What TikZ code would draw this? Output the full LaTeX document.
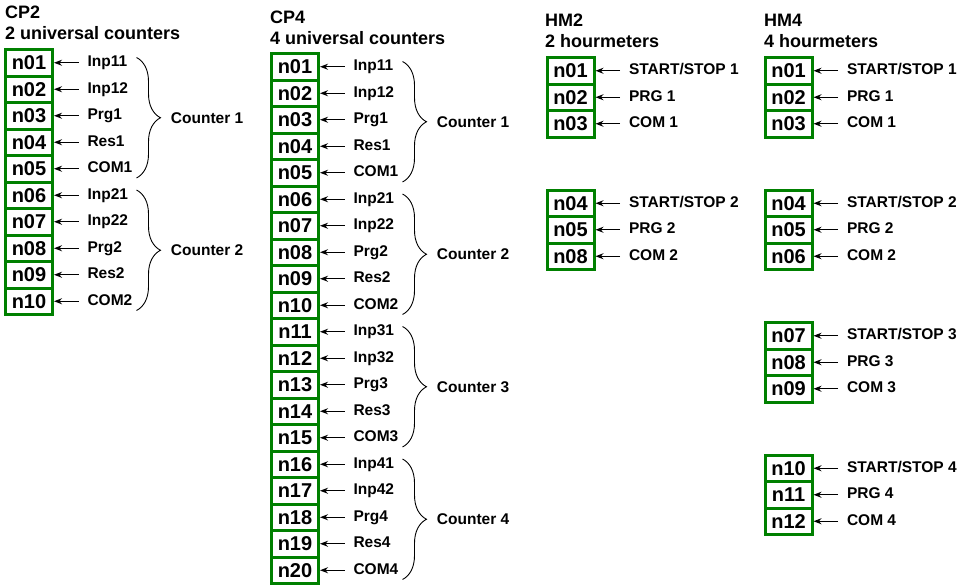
\documentclass[tikz,border=0pt]{standalone}
\usepackage{fontspec}
\setmainfont{Liberation Sans}
\usepackage{xcolor}
\usetikzlibrary{arrows.meta,positioning,decorations.pathreplacing}
\definecolor{termgreen}{RGB}{0,128,0}

\begin{document}
\begin{tikzpicture}[
  x=1pt, y=1pt,
  cell/.style={rectangle, draw=termgreen, line width=3pt, minimum width=47pt, minimum height=26.5pt, inner sep=0pt, outer sep=0pt, font=\fontsize{20}{20}\selectfont\bfseries},
  lbl/.style={inner xsep=9pt, inner ysep=0pt, outer sep=0pt, text height=11pt, text depth=3pt, font=\fontsize{15.5}{16}\selectfont\bfseries},
  title/.style={anchor=north west, align=left, inner sep=0pt, font=\fontsize{18}{21}\selectfont\bfseries},
  cnt/.style={inner sep=0pt, font=\fontsize{15.5}{16}\selectfont\bfseries},
  arrow/.style={-{Stealth[length=8pt,width=6pt]}, line width=1.3pt, shorten >=1.5pt},
  brace/.style={decorate, decoration={brace, amplitude=24pt}, line width=0.9pt}
]
\useasboundingbox (0,0) rectangle (973,-586);

% CP2: 2 universal counters
\node[title] (cp2) at (5,-5.5) {CP2\\2 universal counters};
\foreach \id/\txt [count=\k] in {01/Inp11, 02/Inp12, 03/Prg1, 04/Res1, 05/COM1,
    06/Inp21, 07/Inp22, 08/Prg2, 09/Res2, 10/COM2} {
  \node[cell] (cpa\k) at (29,{-62.75-26.5*(\k-1)}) {n\id};
  \node[lbl, right=26pt of cpa\k] (cpain\k) {\txt};
  \draw[arrow] (cpain\k) -- (cpa\k);
}
\draw[brace] ([xshift=84pt,yshift=-8pt]cpa1.north east) -- ([xshift=84pt,yshift=4pt]cpa5.south east)
  node[cnt, midway, right=34pt] (cpac1) {Counter 1};
\draw[brace] ([xshift=84pt,yshift=-8pt]cpa6.north east) -- ([xshift=84pt,yshift=4pt]cpa10.south east)
  node[cnt, midway, right=34pt] (cpac2) {Counter 2};

% CP4: 4 universal counters
\node[title] (cp4) at (270,-10.5) {CP4\\4 universal counters};
\foreach \id/\txt [count=\k] in {01/Inp11, 02/Inp12, 03/Prg1, 04/Res1, 05/COM1,
    06/Inp21, 07/Inp22, 08/Prg2, 09/Res2, 10/COM2,
    11/Inp31, 12/Inp32, 13/Prg3, 14/Res3, 15/COM3,
    16/Inp41, 17/Inp42, 18/Prg4, 19/Res4, 20/COM4} {
  \node[cell] (cpb\k) at (295,{-66.75-26.5*(\k-1)}) {n\id};
  \node[lbl, right=26pt of cpb\k] (cpbin\k) {\txt};
  \draw[arrow] (cpbin\k) -- (cpb\k);
}
\draw[brace] ([xshift=84pt,yshift=-8pt]cpb1.north east) -- ([xshift=84pt,yshift=4pt]cpb5.south east)
  node[cnt, midway, right=34pt] (cpbc1) {Counter 1};
\draw[brace] ([xshift=84pt,yshift=-8pt]cpb6.north east) -- ([xshift=84pt,yshift=4pt]cpb10.south east)
  node[cnt, midway, right=34pt] (cpbc2) {Counter 2};
\draw[brace] ([xshift=84pt,yshift=-8pt]cpb11.north east) -- ([xshift=84pt,yshift=4pt]cpb15.south east)
  node[cnt, midway, right=34pt] (cpbc3) {Counter 3};
\draw[brace] ([xshift=84pt,yshift=-8pt]cpb16.north east) -- ([xshift=84pt,yshift=4pt]cpb20.south east)
  node[cnt, midway, right=34pt] (cpbc4) {Counter 4};

% HM2: 2 hourmeters
\node[title] (hm2) at (545,-13.8) {HM2\\2 hourmeters};
\foreach \id/\txt/\row in {01/{START/STOP 1}/0, 02/{PRG 1}/1, 03/{COM 1}/2,
    04/{START/STOP 2}/5, 05/{PRG 2}/6, 08/{COM 2}/7} {
  \node[cell] (hma\id) at (570.5,{-70.75-26.5*\row}) {n\id};
  \node[lbl, right=26pt of hma\id] (hmain\id) {\txt};
  \draw[arrow] (hmain\id) -- (hma\id);
}

% HM4: 4 hourmeters
\node[title] (hm4) at (764,-13.8) {HM4\\4 hourmeters};
\foreach \id/\txt/\row in {01/{START/STOP 1}/0, 02/{PRG 1}/1, 03/{COM 1}/2,
    04/{START/STOP 2}/5, 05/{PRG 2}/6, 06/{COM 2}/7,
    07/{START/STOP 3}/10, 08/{PRG 3}/11, 09/{COM 3}/12,
    10/{START/STOP 4}/15, 11/{PRG 4}/16, 12/{COM 4}/17} {
  \node[cell] (hmb\id) at (788.5,{-70.75-26.5*\row}) {n\id};
  \node[lbl, right=26pt of hmb\id] (hmbin\id) {\txt};
  \draw[arrow] (hmbin\id) -- (hmb\id);
}

\end{tikzpicture}
\end{document}
